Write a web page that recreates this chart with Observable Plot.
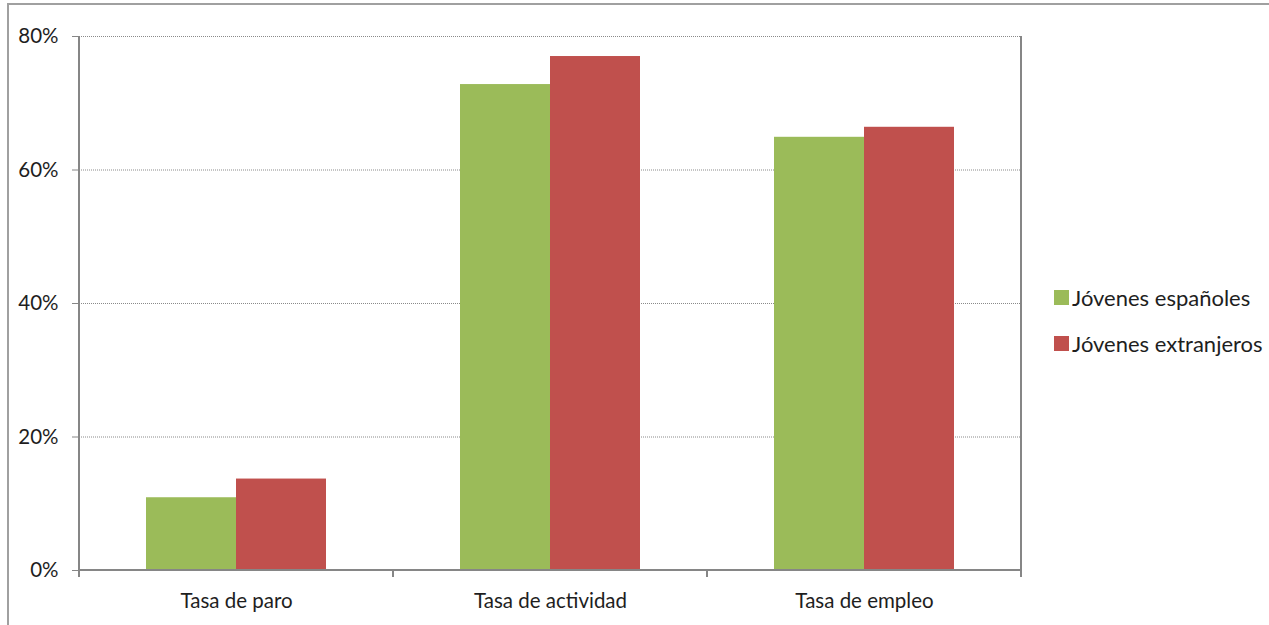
<!DOCTYPE html>
<html>
<head>
<meta charset="utf-8">
<script src="https://cdn.jsdelivr.net/npm/d3@7"></script>
<script src="https://cdn.jsdelivr.net/npm/@observablehq/plot@0.6"></script>
<style>
  html, body { margin: 0; padding: 0; background: #fff; }
  #grafico { position: relative; width: 1269px; height: 625px; overflow: hidden; font-family: Lato, "Open Sans", sans-serif; color: #1e1e1e; }
  #marco { position: absolute; left: 7px; top: 3px; width: 1400px; height: 800px; border-left: 2px solid #a0a0a0; border-top: 2px solid #a0a0a0; }
  #grafico svg { position: absolute; left: 0; top: 0; }
  #leyenda { position: absolute; left: 1054px; top: 282px; font-size: 22px; }
  #leyenda .fila { display: flex; align-items: center; height: 31px; margin-bottom: 15px; white-space: nowrap; }
  #leyenda .muestra { width: 15px; height: 15px; margin-right: 3px; flex: none; }
</style>
</head>
<body>
<div id="grafico"><div id="marco"></div></div>
<script>
// Tasas del mercado laboral de los jóvenes según nacionalidad (%)
const categorias = ["Tasa de paro", "Tasa de actividad", "Tasa de empleo"];
const series = ["Jóvenes españoles", "Jóvenes extranjeros"];
const espanoles = [10.9, 72.8, 64.9];
const extranjeros = [13.7, 77.0, 66.4];
const marcasY = [0, 20, 40, 60, 80];
const colores = ["#9BBB59", "#C0504D"];

const datos = categorias.flatMap((c, i) => [
  {categoria: c, serie: series[0], valor: espanoles[i]},
  {categoria: c, serie: series[1], valor: extranjeros[i]}
]);

const gris = "#868686";

const plot = Plot.plot({
  width: 1269,
  height: 625,
  marginLeft: 79,
  marginRight: 248,
  marginTop: 36,
  marginBottom: 55,
  style: {fontFamily: "Lato, 'Open Sans', sans-serif", fontSize: "20.5px", color: "#1e1e1e", background: "transparent", overflow: "visible"},
  fx: {domain: categorias, padding: 0, label: null},
  x: {domain: series, paddingInner: 0, paddingOuter: 0.744, axis: null},
  y: {domain: [0, 80], label: null},
  color: {domain: series, range: colores},
  marks: [
    Plot.gridY(marcasY.slice(1), {stroke: "#8a8a8a", strokeOpacity: 1, strokeDasharray: "1,1"}),
    Plot.barY(datos, {fx: "categoria", x: "serie", y: "valor", fill: "serie"}),
    Plot.axisY(marcasY, {tickSize: 7, tickPadding: 14, tickFormat: d => d + "%", stroke: gris, fill: "#1e1e1e", label: null}),
    Plot.axisFx({anchor: "bottom", tickSize: 0, tickPadding: 23, fill: "#1e1e1e", label: null})
  ]
});

document.getElementById("grafico").appendChild(plot);

// Ejes: línea izquierda, línea derecha, línea base y marcas entre categorías
const fx = plot.scale("fx");
const y = plot.scale("y");
const y0 = y.apply(0);
const yTope = y.apply(80);
const bordes = categorias.map(c => fx.apply(c)).concat(fx.apply(categorias[categorias.length - 1]) + fx.bandwidth);
const ejes = d3.select(plot).append("g").attr("stroke", gris).attr("stroke-width", 2).attr("fill", "none");
ejes.append("line").attr("x1", bordes[0]).attr("x2", bordes[0]).attr("y1", yTope).attr("y2", y0);
ejes.append("line").attr("x1", bordes[bordes.length - 1]).attr("x2", bordes[bordes.length - 1]).attr("y1", yTope).attr("y2", y0);
ejes.append("line").attr("x1", bordes[0]).attr("x2", bordes[bordes.length - 1]).attr("y1", y0).attr("y2", y0);
ejes.selectAll(".marca").data(bordes).join("line")
  .attr("x1", d => d).attr("x2", d => d).attr("y1", y0).attr("y2", y0 + 7);

// Leyenda a la derecha del gráfico
const color = plot.scale("color");
const leyenda = d3.select("#grafico").append("div").attr("id", "leyenda");
const filas = leyenda.selectAll(".fila").data(series).join("div").attr("class", "fila");
filas.append("span").attr("class", "muestra").style("background", d => color.apply(d));
filas.append("span").text(d => d);
</script>
</body>
</html>
